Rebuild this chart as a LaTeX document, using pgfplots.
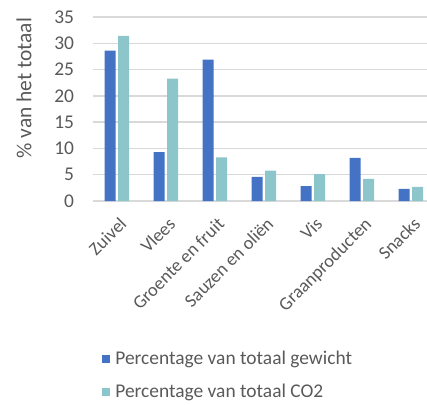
\documentclass[border=0pt]{standalone}
\usepackage{fontspec}
\setmainfont{Carlito}
\usepackage{pgfplots}
\pgfplotsset{compat=1.18}
\definecolor{gewicht}{HTML}{4472C4}
\definecolor{cotwee}{HTML}{8CC6CB}
\definecolor{txt}{HTML}{595959}
\definecolor{grd}{HTML}{D9D9D9}
\begin{document}
\begin{tikzpicture}[x=1bp,y=1bp]
\path[use as bounding box] (0,0) rectangle (427,405);
\begin{axis}[
  at={(92.5bp,204bp)}, anchor=south west,
  scale only axis, width=334.5bp, height=184bp,
  xmin=-0.5, xmax=6.33, ymin=0, ymax=35,
  ytick={0,5,...,35},
  xtick={0,...,6},
  xticklabels={Zuivel,Vlees,Groente en fruit,Sauzen en oliën,Vis,Graanproducten,Snacks},
  ymajorgrids, grid style={grd, line width=1.5bp},
  axis line style={draw=none},
  major tick length=0pt,
  ybar=2.5bp, bar width=11bp,
  font=\fontsize{19.5}{23}\selectfont,
  /pgf/number format/assume math mode=true,
  yticklabel style={text=txt, anchor=east, xshift=-15bp},
  xticklabel style={text=txt, font=\fontsize{18.5}{22}\selectfont,
    xshift=1.5bp, yshift=-10.4bp, rotate=45, anchor=north east},
  ylabel={\% van het totaal},
  ylabel style={text=txt, font=\fontsize{21.5}{25}\selectfont,
    at={(axis description cs:-0.205,0.614)}, anchor=center, rotate=0},
  legend style={draw=none, fill=none, at={(axis description cs:0.02,-0.80)}, anchor=north west,
    font=\fontsize{19.5}{23}\selectfont, text=txt, row sep=16bp, column sep=4bp,
    nodes={inner sep=1bp}},
  legend cell align=left,
  legend image code/.code={\fill[#1] (0bp,-4bp) rectangle (8bp,4bp);},
]
\addplot[fill=gewicht, draw=none] coordinates {(0,28.6) (1,9.3) (2,26.9) (3,4.6) (4,2.85) (5,8.2) (6,2.3)};
\addplot[fill=cotwee, draw=none] coordinates {(0,31.4) (1,23.3) (2,8.3) (3,5.8) (4,5.1) (5,4.2) (6,2.7)};
\legend{Percentage van totaal gewicht, Percentage van totaal CO2}
\end{axis}
\end{tikzpicture}
\end{document}
